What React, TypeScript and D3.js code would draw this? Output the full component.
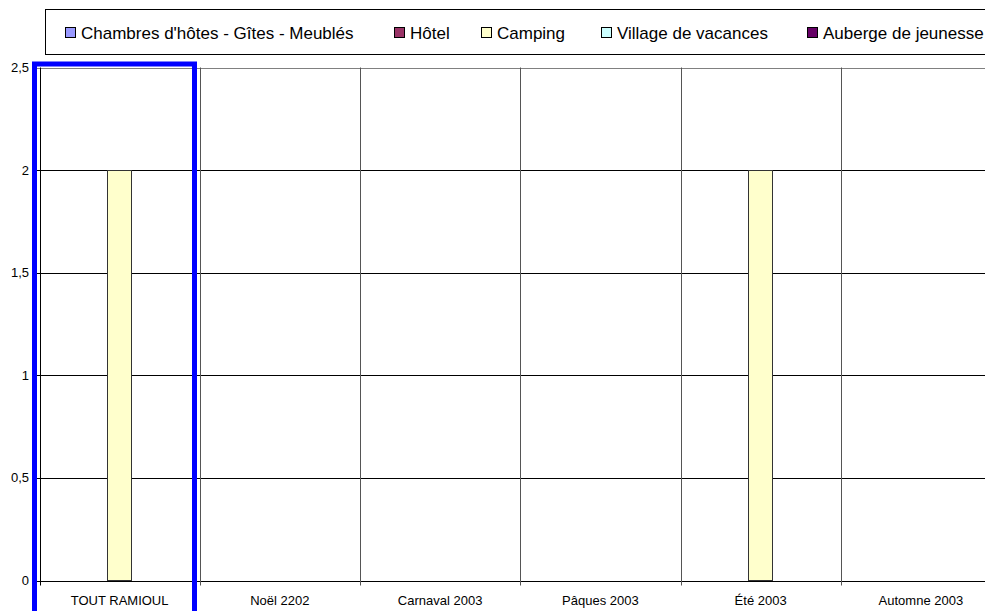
import React from 'react';
import * as d3 from 'd3';

const categories = ['TOUT RAMIOUL', 'Noël 2202', 'Carnaval 2003', 'Pâques 2003', 'Été 2003', 'Automne 2003'];
const seriesNames = ['Chambres d\'hôtes - Gîtes - Meublés', 'Hôtel', 'Camping', 'Village de vacances', 'Auberge de jeunesse'];
const seriesColors = ['#9999FF', '#993366', '#FFFFCC', '#CCFFFF', '#660066'];
const chambres = [0, 0, 0, 0, 0, 0];
const hotel = [0, 0, 0, 0, 0, 0];
const camping = [2, 0, 0, 0, 2, 0];
const village = [0, 0, 0, 0, 0, 0];
const auberge = [0, 0, 0, 0, 0, 0];
const yTicks = [0, 0.5, 1, 1.5, 2, 2.5];

const seriesValues = [chambres, hotel, camping, village, auberge];
// legend item x positions (layout)
const legendX = [65, 394, 481, 601, 807];

const font = "'Liberation Sans', Arial, sans-serif";

function App() {
    const W = 985, H = 611;
    const left = 39.5, top = 67.5, bottom = 580.5, right = 1001;

    const x = d3.scaleBand<string>().domain(categories).range([left, right]).padding(0);
    const bw = x.bandwidth();
    const x1 = d3.scaleBand<string>().domain(seriesNames).range([bw * 0.125, bw * 0.875]).padding(0);
    const y = d3.scaleLinear().domain([0, 2.5]).range([bottom, top]);
    const fmt = (v: number) => String(v).replace('.', ',');

    const bars = seriesNames.flatMap((s, si) =>
        categories.map((c, ci) => ({ s, si, c, v: seriesValues[si][ci] }))
    ).filter(d => d.v > 0);

    return (
        <svg width={W} height={H} style={{ position: 'absolute', left: 0, top: 0, background: '#fff' }}
            fontFamily={font}>
            <rect x={0} y={0} width={W} height={H} fill="#fff" />
            {/* legend */}
            <rect x={45.5} y={9.5} width={960} height={45} fill="#fff" stroke="#000" />
            {seriesNames.map((s, i) => (
                <g key={s} transform={`translate(${legendX[i]},0)`}>
                    <rect x={0.5} y={27.5} width={10} height={10} fill={seriesColors[i]} stroke="#000" />
                    <text x={16} y={39} fontSize={17} fill="#000">{s}</text>
                </g>
            ))}
            {/* horizontal gridlines */}
            {yTicks.map(t => (
                <g key={t}>
                    <line x1={left - 4} x2={right} y1={Math.round(y(t)) + 0.5} y2={Math.round(y(t)) + 0.5}
                        stroke={t === 2.5 ? '#808080' : '#000'} />
                    <text x={29} y={y(t) + 4.5} fontSize={13} textAnchor="end" fill="#000">{fmt(t)}</text>
                </g>
            ))}
            {/* vertical category lines */}
            {categories.map(c => (
                <line key={c} x1={Math.round(x(c)!) + 0.5} x2={Math.round(x(c)!) + 0.5}
                    y1={top} y2={bottom + 5} stroke={c === categories[0] ? '#000' : '#555'} />
            ))}
            {/* bars */}
            {bars.map(d => (
                <rect key={d.s + d.c} x={Math.floor(x(d.c)! + x1(d.s)!) + 0.5} y={Math.round(y(d.v)) + 0.5}
                    width={Math.round(x1.bandwidth())} height={Math.round(y(0) - y(d.v))}
                    fill={seriesColors[d.si]} stroke="#333" />
            ))}
            {/* category labels */}
            {categories.map(c => (
                <text key={c} x={x(c)! + bw / 2} y={605} fontSize={13} textAnchor="middle" fill="#000">{c}</text>
            ))}
            {/* highlight */}
            <rect x={34.5} y={64} width={160} height={600} fill="none" stroke="#0000FF" strokeWidth={5} />
        </svg>
    );
}

export default App;
